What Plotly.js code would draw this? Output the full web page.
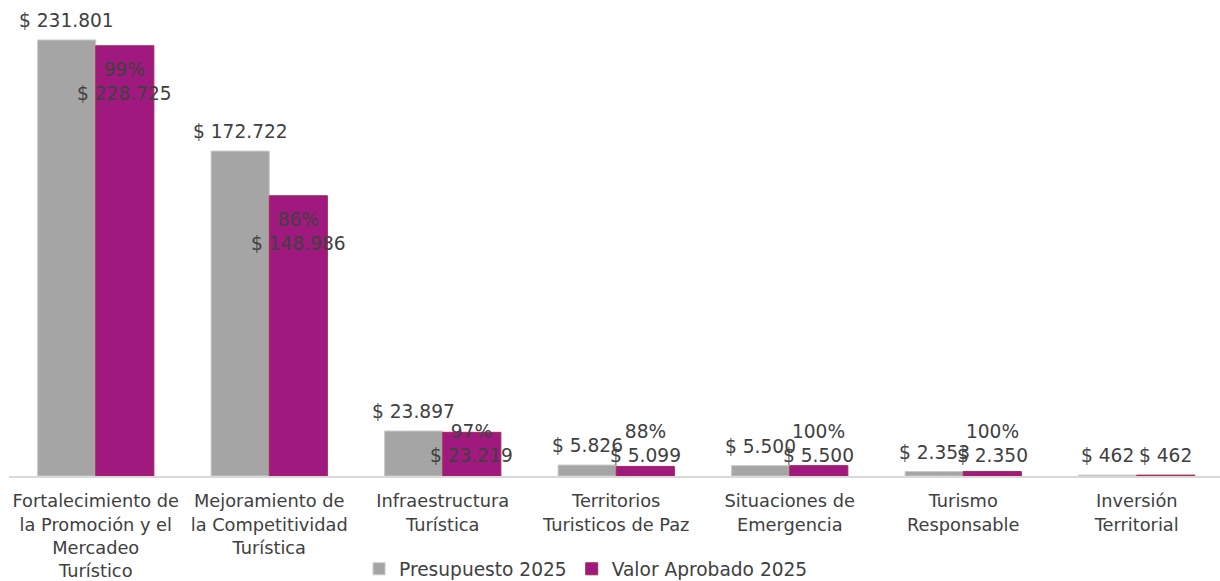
<!DOCTYPE html>
<html><head><meta charset="utf-8">
<script src="https://cdn.plot.ly/plotly-3.0.1.min.js"></script>
<style>html,body{margin:0;padding:0;background:#fff}#chart{width:1220px;height:581px}</style>
</head><body><div id="chart"></div>
<script>
const categories = [
  "Fortalecimiento de<br>la Promoción y el<br>Mercadeo<br>Turístico",
  "Mejoramiento de<br>la Competitividad<br>Turística",
  "Infraestructura<br>Turística",
  "Territorios<br>Turisticos de Paz",
  "Situaciones de<br>Emergencia",
  "Turismo<br>Responsable",
  "Inversión<br>Territorial"
];
const presupuesto = [231801, 172722, 23897, 5826, 5500, 2353, 462];
const aprobado = [228725, 148986, 23219, 5099, 5500, 2350, 462];
const presupuestoLabels = ["$ 231.801", "$ 172.722", "$ 23.897", "$ 5.826", "$ 5.500", "$ 2.353", "$ 462"];
const aprobadoLabels = ["99%<br>$ 228.725", "86%<br>$ 148.986", "97%<br>$ 23.219", "88%<br>$ 5.099", "100%<br>$ 5.500", "100%<br>$ 2.350", "$ 462"];

const FONT = "DejaVu Sans, Verdana, sans-serif";
const TXT = "#404040";
const FS = 18.6;
const TFS = 17.8;
const xs = categories.map((c, i) => i);
const half = 0.1675;

const traces = [
  {type: "bar", name: "Presupuesto 2025", x: xs, y: presupuesto,
   marker: {color: "#A5A5A5", line: {color: "#C8C8C8", width: 1}}, hoverinfo: "none"},
  {type: "bar", name: "Valor Aprobado 2025", x: xs, y: aprobado,
   marker: {color: "#A0197E", line: {color: "#A8264E", width: 1}}, hoverinfo: "none"}
];

const annotations = [];
presupuesto.forEach((v, i) => {
  annotations.push({x: i - half, y: v, xref: "x", yref: "y", text: presupuestoLabels[i],
    showarrow: false, yanchor: "bottom", yshift: 7, font: {family: FONT, size: FS, color: TXT}});
});
const yMinLabel = 36150;
aprobado.forEach((v, i) => {
  const single = aprobadoLabels[i].indexOf("<br>") < 0;
  annotations.push({x: i + half, y: single ? v : Math.max(v, yMinLabel), xref: "x", yref: "y", text: aprobadoLabels[i],
    showarrow: false, yanchor: single ? "bottom" : "top", yshift: single ? 7 : -11,
    font: {family: FONT, size: FS, color: TXT}});
});

const layout = {
  width: 1220, height: 581,
  margin: {l: 9, r: 0, t: 10, b: 105, autoexpand: false},
  paper_bgcolor: "#fff", plot_bgcolor: "#fff",
  barmode: "group", bargap: 0.33, bargroupgap: 0,
  font: {family: FONT, size: FS, color: TXT},
  xaxis: {type: "linear", range: [-0.5, 6.48], tickvals: xs, ticktext: categories, automargin: false,
    showgrid: false, zeroline: false, showline: true, linecolor: "#D9D9D9", linewidth: 2,
    ticks: "", ticklabelstandoff: 8, tickfont: {family: FONT, size: TFS, color: TXT}, fixedrange: true},
  yaxis: {range: [0, 247740], visible: false, showgrid: false, zeroline: false, fixedrange: true},
  showlegend: true,
  legend: {orientation: "h", x: 0.4765, xanchor: "center", y: -0.2, yanchor: "middle",
    font: {family: FONT, size: FS, color: TXT}, itemwidth: 30, traceorder: "normal"},
  annotations: annotations
};
Plotly.newPlot("chart", traces, layout, {displayModeBar: false, staticPlot: true});
</script>
</body></html>
